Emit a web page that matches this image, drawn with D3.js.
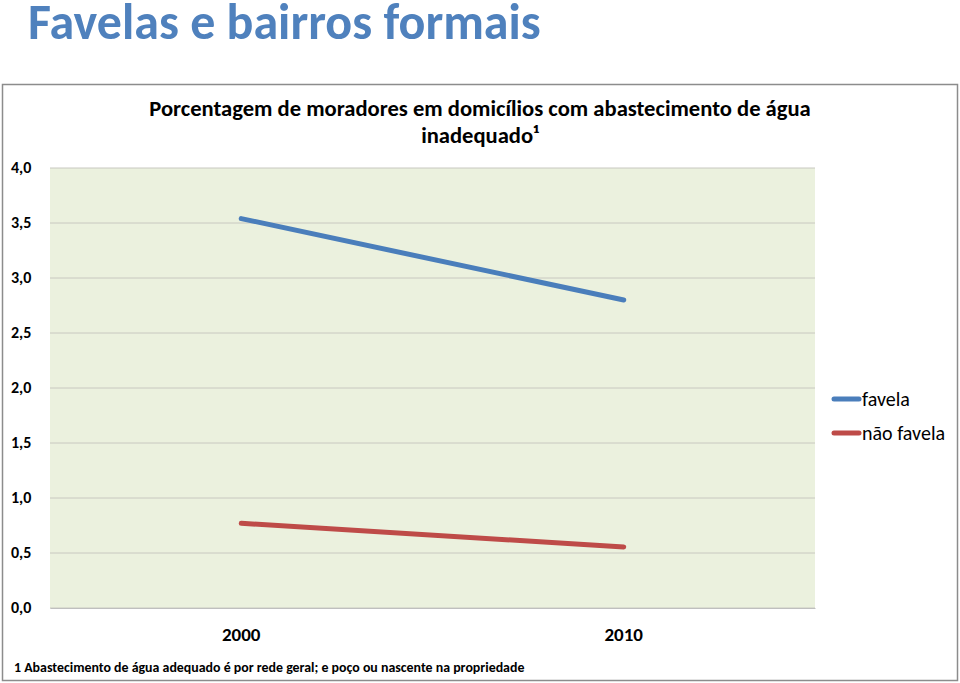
<!DOCTYPE html>
<html><head><meta charset="utf-8">
<script src="https://cdn.jsdelivr.net/npm/d3@7"></script>
<style>
body{margin:0;background:#fff;}
text{font-family:Carlito,Lato,"Open Sans",sans-serif;}
</style></head>
<body><svg id="c" width="960" height="683"></svg>
<script>
const categories = ["2000", "2010"];
const seriesNames = ["favela", "não favela"];
const favela = [3.54, 2.80];
const naoFavela = [0.77, 0.555];
const yTicks = [0, 0.5, 1.0, 1.5, 2.0, 2.5, 3.0, 3.5, 4.0];
const colors = ["#4A7EBB", "#BE4B48"];

const svg = d3.select("#c");
svg.append("text").attr("x", 28).attr("y", 39).attr("fill", "#4F81BD")
  .attr("font-size", 50).attr("font-weight", "bold").text("Favelas e bairros formais");

svg.append("rect").attr("x", 2.5).attr("y", 84.5).attr("width", 955).attr("height", 596)
  .attr("fill", "#fff").attr("stroke", "#8c8c8c").attr("stroke-width", 1.5);

const L = 50, R = 815, T = 168, B = 608;
const x = d3.scaleBand().domain(categories).range([L, R]);
const y = d3.scaleLinear().domain([0, 4]).range([B, T]);

svg.append("rect").attr("x", L).attr("y", T).attr("width", R - L).attr("height", B - T).attr("fill", "#EBF1DE");

const g = svg.append("g");
g.selectAll("line.grid").data(yTicks).join("line").attr("class", "grid")
  .attr("x1", L).attr("x2", R).attr("y1", d => y(d)).attr("y2", d => y(d))
  .attr("stroke", "#c8c8c0").attr("stroke-width", 1);

const fmt = d => d3.format(".1f")(d).replace(".", ",");
const yAxis = d3.axisLeft(y).tickValues(yTicks).tickFormat(fmt).tickSize(0);
const ya = svg.append("g").attr("transform", `translate(${L},0)`).call(yAxis);
ya.select(".domain").remove();
ya.selectAll("text").attr("x", -39).attr("text-anchor", "start").attr("dy", "0.32em")
  .attr("font-size", 16).attr("font-weight", "bold").attr("fill", "#000")
  .attr("font-family", "Carlito,Lato,sans-serif").attr("transform", "translate(0,-1)");

const xAxis = d3.axisBottom(x).tickSize(0);
const xa = svg.append("g").attr("transform", `translate(0,${B})`).call(xAxis);
xa.select(".domain").attr("stroke", "#bfbfbf");
xa.selectAll("text").attr("y", 20).attr("dy", "0.71em").attr("font-size", 19).attr("font-weight", "bold")
  .attr("fill", "#000").attr("font-family", "Carlito,Lato,sans-serif");

const line = d3.line().x((d, i) => x(categories[i]) + x.bandwidth() / 2).y(d => y(d));
[favela, naoFavela].forEach((s, k) => {
  svg.append("path").datum(s).attr("d", line).attr("fill", "none")
    .attr("stroke", colors[k]).attr("stroke-width", 5).attr("stroke-linecap", "round");
});

svg.append("text").attr("x", 480).attr("y", 116).attr("text-anchor", "middle")
  .attr("font-size", 22.6).attr("font-weight", "bold").attr("fill", "#000")
  .text("Porcentagem de moradores em domicílios com abastecimento de água");
svg.append("text").attr("x", 480).attr("y", 143).attr("text-anchor", "middle")
  .attr("font-size", 22.6).attr("font-weight", "bold").attr("fill", "#000")
  .text("inadequado¹");

const leg = svg.append("g");
seriesNames.forEach((n, k) => {
  const yy = 399 + k * 34;
  leg.append("line").attr("x1", 834).attr("x2", 859).attr("y1", yy).attr("y2", yy)
    .attr("stroke", colors[k]).attr("stroke-width", 5).attr("stroke-linecap", "round");
  leg.append("text").attr("x", 862).attr("y", yy).attr("dy", "0.35em").attr("font-size", 20)
    .attr("fill", "#000").text(n);
});

svg.append("text").attr("x", 14).attr("y", 672).attr("font-size", 13.9).attr("font-weight", "bold")
  .attr("fill", "#000").text("1 Abastecimento de água adequado é por rede geral; e poço ou nascente na propriedade");
</script></body></html>
